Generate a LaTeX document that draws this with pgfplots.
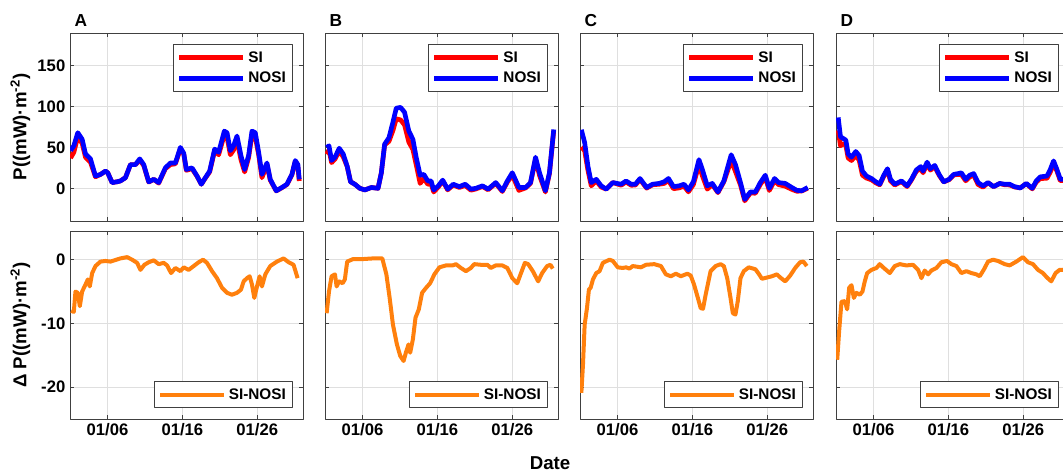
\documentclass[border=0pt]{standalone}
\usepackage{fontspec}
\setmainfont{Liberation Sans}
\usepackage{pgfplots}
\pgfplotsset{compat=1.18}
\definecolor{axgray}{rgb}{0.25,0.25,0.25}
\definecolor{siorange}{rgb}{1,0.5,0.05}
\pgfplotsset{
 panel/.style={scale only axis, width=174.75pt, height=141pt,
   xmin=1, xmax=32.1, xtick={6,16,26}, xticklabels={01/06,01/16,01/26},
   grid=major, grid style={draw=gray!25, line width=0.5pt},
   tick align=inside, major tick length=3pt,
   axis line style={draw=axgray, line width=0.6pt},
   every tick/.style={draw=axgray, line width=0.6pt},
   /pgf/number format/assume math mode=true,
   tick label style={font=\fontsize{12.5}{14}\selectfont\bfseries},
   every axis y label/.style={at={(axis description cs:-0.15,0.5)}, rotate=90, anchor=south, font=\fontsize{14}{16}\selectfont\bfseries},
   title style={at={(0,1)}, anchor=base west, yshift=-0.75pt, font=\fontsize{13}{15}\selectfont\bfseries},
   legend cell align=left,
   legend image code/.code={\draw[##1] (0pt,0pt) -- (48pt,0pt);},
   legend style={draw=axgray, line width=0.6pt, fill=white, font=\fontsize{11.5}{13}\selectfont\bfseries, inner xsep=3pt, inner ysep=3pt, row sep=2pt},
   line join=round},
 toprow/.style={ymin=-40, ymax=190, ytick={0,50,100,150}, xticklabels={},
   legend style={at={(0.957,0.94)}, anchor=north east}},
 botrow/.style={ymin=-25, ymax=4.5, ytick={-20,-10,0},
   legend style={at={(0.957,0.058)}, anchor=south east}},
 noy/.style={yticklabels={}},
 siline/.style={red, line width=3.5pt},
 nosiline/.style={blue, line width=3.5pt},
 dline/.style={siorange, line width=3pt},
}
\begin{document}
\begin{tikzpicture}
\useasboundingbox (0,0) rectangle (797.25pt,-356.25pt);
\clip (0,0) rectangle (797.25pt,-356.25pt);
% ---------------- A top
\begin{axis}[panel, toprow, at={(52.5pt,-24.75pt)}, anchor=north west, title={A},
  ylabel={P((mW)·m\textsuperscript{-2})}]
\addplot[siline] table {
1.07 37
1.51 44
2.04 63
2.62 55
3.07 38
3.73 32
4.40 14
5.07 17
5.73 21
6.04 19
6.62 7
7.29 8
7.73 9
8.40 13
9.07 29
9.73 29
10.31 34.5
10.84 28
11.51 7.6
12.18 11
12.84 6.3
13.73 24
14.40 29
15.07 30
15.73 48
16.18 42
16.53 22
17.29 24
17.96 14.6
18.53 5
19.07 12.6
19.64 20
20.31 46
20.84 41
21.60 65.5
21.96 63
22.40 41
22.84 47
23.29 59
23.82 35
24.31 20
24.84 37.5
25.29 66
25.73 63
26.18 41
26.62 13
27.29 29
27.73 10
28.53 -3.2
29.29 0.8
29.96 4.6
30.62 16.4
31.07 33
31.42 26
31.60 9
};
\addlegendentry{SI}
\addplot[nosiline] table {
1.07 46
1.51 52
2.04 68
2.62 60
3.07 42
3.73 36
4.40 15
5.07 17
5.73 21
6.04 19
6.62 7
7.29 8
7.73 9
8.40 13
9.07 29
9.73 29
10.31 36
10.84 29
11.51 8
12.18 11
12.84 7
13.73 25
14.40 31
15.07 31
15.73 50
16.18 43
16.53 23
17.29 25
17.96 15
18.53 5
19.07 13
19.64 21
20.31 48
20.84 44
21.60 70
21.96 68
22.40 46
22.84 52
23.29 64
23.82 40
24.31 23
24.84 40
25.29 70
25.73 68
26.18 44
26.62 17
27.29 31
27.73 11
28.53 -3
29.29 1
29.96 5
30.62 17
31.07 34
31.42 29
31.60 11
};
\addlegendentry{NOSI}
\end{axis}
% ---------------- A bottom
\begin{axis}[panel, botrow, at={(52.5pt,-173.25pt)}, anchor=north west,
  ylabel={Δ P((mW)·m\textsuperscript{-2})}]
\addplot[dline] table {
1.16 -8.0
1.51 -8.2
1.73 -5.0
2.04 -5.2
2.31 -7.3
2.62 -5.0
3.07 -3.9
3.38 -3.1
3.64 -4.2
3.96 -2.1
4.40 -1.0
5.07 -0.3
5.73 -0.2
6.40 -0.3
7.73 0.2
8.62 0.4
9.29 0.0
9.96 -0.5
10.40 -1.6
10.93 -0.8
11.51 -0.4
12.18 -0.1
12.84 -0.7
13.51 -0.5
13.96 -0.9
14.49 -2.1
15.07 -1.3
15.73 -1.8
16.18 -1.2
16.84 -1.6
17.51 -1.0
18.18 -0.4
18.76 0.0
19.29 -0.5
19.96 -1.8
20.62 -2.9
21.29 -4.4
21.96 -5.2
22.62 -5.5
23.29 -5.2
23.82 -4.7
24.18 -3.4
24.62 -2.9
24.98 -2.6
25.29 -3.9
25.60 -6.0
25.96 -4.2
26.31 -2.6
26.62 -4.2
27.07 -2.3
27.73 -1.0
28.62 -0.3
29.51 0.2
30.18 -0.4
30.84 -0.8
31.38 -2.9
};
\addlegendentry{SI-NOSI}
\end{axis}
% ---------------- B top
\begin{axis}[panel, toprow, noy, at={(243.75pt,-24.75pt)}, anchor=north west, title={B}]
\addplot[siline] table {
1.22 41.6
1.53 47
1.88 31.4
2.33 35.7
2.90 45.6
3.43 38.5
3.96 26.7
4.41 8
4.98 5
5.65 0
6.31 -2
7.19 1
8.08 0
8.52 19
8.96 53
9.54 57.5
10.07 70.8
10.51 85
11.09 83.7
11.62 77.5
12.19 56.5
12.73 47.5
13.17 29
13.70 6
14.19 12
14.72 5
15.16 5.3
15.51 -4.5
16.13 1.7
16.71 9
17.37 -1.9
18.12 4.1
18.92 1
19.72 3.4
20.47 -2.3
21.13 -0.8
22.02 2.2
22.77 -1.8
23.79 6.1
24.67 -3.9
25.34 7.7
26.00 16
26.88 -2.5
27.77 0.4
28.43 6
29.10 35.5
29.63 15.8
30.42 -4.5
30.96 18
31.53 70.6
};
\addlegendentry{SI}
\addplot[nosiline] table {
1.22 50
1.53 52
1.88 34
2.33 38
2.90 49
3.43 42
3.96 27
4.41 8
4.98 5
5.65 0
6.31 -2
7.19 1
8.08 0
8.52 19
8.96 54
9.54 62
10.07 81
10.51 98
11.09 99
11.62 93
12.19 70
12.73 60
13.17 38
13.70 16
14.19 17
14.72 9
15.16 9
15.51 -2
16.13 3
16.71 10
17.37 -1
18.12 5
18.92 2
19.72 5
20.47 -1
21.13 0
22.02 3
22.77 -1
23.79 7
24.67 -3
25.34 9
26.00 19
26.88 1
27.77 1
28.43 7
29.10 38
29.63 19
30.42 -3
30.96 19
31.53 72
};
\addlegendentry{NOSI}
\end{axis}
% ---------------- B bottom
\begin{axis}[panel, botrow, noy, at={(243.75pt,-173.25pt)}, anchor=north west]
\addplot[dline] table {
1.22 -8.4
1.53 -5.0
1.88 -2.6
2.33 -2.3
2.55 -4.2
2.90 -3.4
3.35 -3.7
3.65 -3.1
3.96 -0.3
4.76 0.1
6.09 0.1
7.42 0.2
8.65 0.2
9.19 -2.3
9.63 -6.0
10.07 -10.2
10.60 -13.3
11.04 -15.1
11.49 -15.9
11.84 -14.4
12.15 -13.3
12.37 -14.6
12.73 -12.5
13.08 -9.1
13.52 -7.8
13.96 -5.2
14.50 -4.4
15.03 -3.7
15.60 -2.3
16.27 -1.2
17.15 -0.9
18.04 -0.9
18.48 -0.7
19.14 -1.3
19.81 -1.8
20.47 -1.3
20.91 -0.7
21.80 -0.8
22.68 -0.8
23.12 -1.3
23.79 -0.9
24.67 -0.9
25.34 -1.3
26.00 -2.9
26.66 -3.7
27.10 -2.3
27.68 -0.5
28.12 -0.7
28.74 -1.8
29.45 -3.4
29.98 -2.1
30.65 -1.0
31.09 -0.8
31.40 -1.4
};
\addlegendentry{SI-NOSI}
\end{axis}
% ---------------- C top
\begin{axis}[panel, toprow, noy, at={(435pt,-24.75pt)}, anchor=north west, title={C}]
\addplot[siline] table {
1.18 50.6
1.62 46
2.06 22
2.50 3
3.17 9
3.83 1.5
4.50 -1
5.38 7
6.49 3.8
7.15 7.8
7.81 3.8
8.39 3.9
9.01 10.8
9.89 0.2
10.69 4.3
11.58 5
12.24 6
12.81 9.6
13.48 -0.5
14.23 0.5
14.89 2.6
15.47 -4.3
16.13 4.5
16.88 29
17.33 15.4
17.99 -1
18.65 4.6
19.41 -5.3
20.20 8
21.18 34
21.75 20.5
22.42 4
22.99 -15.3
23.74 -5.8
24.41 -6
25.07 4.8
25.73 13.2
26.27 -2.7
26.97 9.4
27.50 4.5
28.39 2.6
29.27 -1.3
29.94 -3.6
30.60 -3.3
31.40 0.1
};
\addlegendentry{SI}
\addplot[nosiline] table {
1.18 71.6
1.62 56
2.06 27
2.50 7
3.17 11
3.83 3
4.50 -1
5.38 7
6.49 5
7.15 9
7.81 5
8.39 5
9.01 12
9.89 1
10.69 5
11.58 6
12.24 8
12.81 12
13.48 2
14.23 3
14.89 5
15.47 -2
16.13 8
16.88 35
17.33 23
17.99 3
18.65 6
19.41 -4.5
20.20 9
21.18 41
21.75 29
22.42 7
22.99 -13.5
23.74 -4.5
24.41 -4.5
25.07 7
25.73 16
26.27 0
26.97 12
27.50 7
28.39 6
29.27 1
29.94 -2.5
30.60 -3
31.40 1
};
\addlegendentry{NOSI}
\end{axis}
% ---------------- C bottom
\begin{axis}[panel, botrow, noy, at={(435pt,-173.25pt)}, anchor=north west]
\addplot[dline] table {
1.18 -20.9
1.40 -16.4
1.62 -10.2
1.93 -7.6
2.19 -4.7
2.42 -4.4
2.73 -3.1
3.17 -2.1
3.61 -1.8
4.05 -0.5
4.94 0.0
5.38 -0.2
6.04 -1.2
6.71 -1.3
7.15 -1.2
7.59 -1.4
8.04 -1.0
9.14 -1.2
9.81 -0.8
10.91 -0.7
11.80 -1.0
12.46 -2.3
13.12 -2.6
13.79 -2.2
14.45 -2.6
15.34 -2.2
15.78 -2.5
16.22 -3.9
16.66 -5.7
17.11 -7.6
17.42 -7.7
17.77 -5.5
18.43 -1.8
19.10 -1.0
19.76 -0.7
20.20 -1.0
20.65 -2.9
21.09 -6.0
21.40 -8.4
21.75 -8.6
22.06 -6.5
22.42 -2.9
22.86 -1.8
23.52 -1.2
24.41 -1.5
24.85 -2.2
25.29 -3.0
25.96 -2.8
26.62 -2.6
27.28 -2.3
27.73 -2.8
28.39 -3.4
29.05 -2.5
29.72 -1.3
30.38 -0.4
30.82 -0.3
31.27 -1.0
};
\addlegendentry{SI-NOSI}
\end{axis}
% ---------------- D top
\begin{axis}[panel, toprow, noy, at={(627pt,-24.75pt)}, anchor=north west, title={D}]
\addplot[siline] table {
1.29 71
1.60 52
1.96 54.5
2.31 52.5
2.62 37
3.07 34
3.64 40
4.09 34.5
4.53 16
5.07 12.5
5.73 10.4
6.31 6.7
6.84 4.3
7.38 14.7
7.87 22.2
8.27 9
8.84 4
9.73 8.2
10.49 2.1
11.07 10.2
11.73 21
12.31 24
12.62 19
13.16 29.8
13.60 22.2
14.18 26.6
14.76 16
15.38 7.8
16.09 10.5
16.71 16.3
17.29 17
17.73 16.9
18.31 9.2
18.84 14
19.38 15.9
19.96 4.7
20.62 1.4
21.29 6.7
22.04 2
22.84 5.8
23.51 4.3
24.18 4.1
24.84 1.6
25.60 0.6
26.40 5.6
27.20 -0.7
27.73 7.6
28.27 12
29.16 12.2
29.60 19.8
30.04 30.3
30.49 21
30.93 9.4
31.29 9.4
31.60 10.5
};
\addlegendentry{SI}
\addplot[nosiline] table {
1.29 86.7
1.60 63
1.96 61
2.31 59
2.62 42
3.07 38
3.64 45
4.09 40
4.53 21
5.07 15
5.73 12
6.31 8
6.84 5
7.38 16
7.87 24
8.27 11
8.84 5
9.73 9
10.49 3
11.07 11
11.73 22.5
12.31 26.6
12.62 21
13.16 32
13.60 24
14.18 28
14.76 17
15.38 8
16.09 11
16.71 17
17.29 18
17.73 19
18.31 11
18.84 16
19.38 18
19.96 7
20.62 3
21.29 7
22.04 2
22.84 6
23.51 5
24.18 5
24.84 2
25.60 0.4
26.40 6
27.20 0
27.73 9
28.27 14
29.16 15
29.60 23
30.04 33.5
30.49 23
30.93 11
31.29 11
31.60 12
};
\addlegendentry{NOSI}
\end{axis}
% ---------------- D bottom
\begin{axis}[panel, botrow, noy, at={(627pt,-173.25pt)}, anchor=north west]
\addplot[dline] table {
1.16 -15.7
1.42 -11.2
1.73 -6.6
2.18 -6.5
2.49 -7.8
2.76 -4.4
3.07 -4.0
3.38 -6.0
3.73 -5.2
4.18 -5.5
4.53 -5.0
4.84 -3.4
5.16 -2.1
5.73 -1.6
6.40 -1.3
6.84 -0.7
7.38 -1.3
8.18 -2.1
8.84 -1.0
9.51 -0.7
10.40 -0.9
11.29 -0.8
11.96 -1.6
12.40 -2.9
12.84 -1.7
13.29 -2.3
13.73 -1.7
14.40 -1.3
15.07 -0.4
15.82 -0.2
16.40 -0.7
17.07 -1.0
17.73 -2.1
18.40 -1.8
19.07 -2.1
19.73 -2.3
20.18 -2.6
20.71 -1.6
21.29 -0.3
21.96 0.0
22.62 -0.2
23.51 -0.7
24.18 -0.9
25.07 -0.3
25.96 0.4
26.62 -0.4
27.29 -0.7
27.96 -1.6
28.62 -2.1
29.16 -2.8
29.73 -3.4
30.31 -2.1
30.84 -1.6
31.24 -1.6
31.60 -1.5
};
\addlegendentry{SI-NOSI}
\end{axis}
\node[anchor=base, font=\fontsize{14}{16}\selectfont\bfseries] at (412.5pt,-351.75pt) {Date};
\end{tikzpicture}
\end{document}
